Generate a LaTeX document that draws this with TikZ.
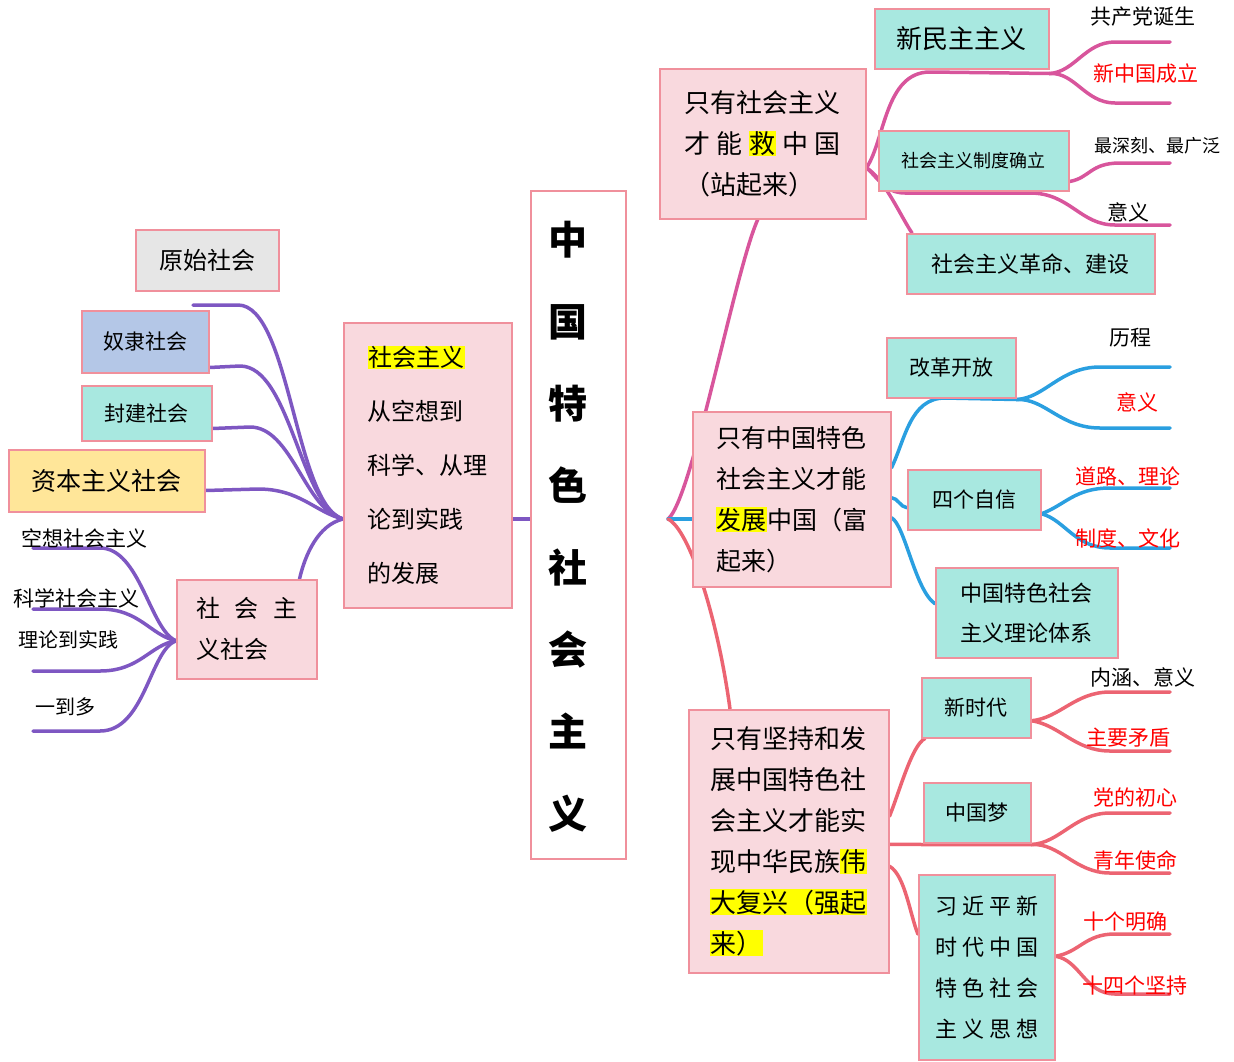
\documentclass[tikz,border=0pt]{standalone}
\usepackage{fontspec}
\setmainfont{Noto Sans CJK SC}
\usepackage{tikz}
\usetikzlibrary{backgrounds}
\usepackage{xcolor}
\definecolor{boxline}{HTML}{F0909C}
\definecolor{boxpink}{HTML}{F9D9DE}
\definecolor{boxteal}{HTML}{A8E8E0}
\definecolor{boxgray}{HTML}{E6E6E6}
\definecolor{boxblue}{HTML}{B4C7E7}
\definecolor{boxgold}{HTML}{FFE699}
\definecolor{hlyellow}{HTML}{FFFF00}
\definecolor{lnpurple}{HTML}{7E57C2}
\definecolor{lnmagenta}{HTML}{D8559C}
\definecolor{lnblue}{HTML}{2A9FE0}
\definecolor{lnred}{HTML}{EC6472}
\definecolor{txtred}{HTML}{FF0000}
\newcommand{\hl}[1]{{\setlength{\fboxsep}{0.5pt}\colorbox{hlyellow}{#1}}}
\newcommand{\zhsize}[2]{\fontsize{#1}{#2}\selectfont}

\begin{document}
\begin{tikzpicture}[x=1pt,y=-1pt,
 box/.style={draw=boxline,line width=1.5pt,anchor=north west,inner sep=0pt,align=left},
 pinkbox/.style={box,fill=boxpink},
 tealbox/.style={box,fill=boxteal},
 leaf/.style={font=\zhsize{21}{25}},
 redleaf/.style={leaf,text=txtred},
 purpleline/.style={draw=lnpurple,line width=3.5pt,line cap=round},
 magline/.style={draw=lnmagenta,line width=3.5pt,line cap=round},
 blueline/.style={draw=lnblue,line width=3.5pt,line cap=round},
 redline/.style={draw=lnred,line width=3.5pt,line cap=round}]
 \useasboundingbox (0,0) rectangle (1234,1061);

 %%%% left side
 \node[box,fill=boxgray,minimum width=143,minimum height=61,font=\zhsize{24}{28}] (yuanshi) at (135,229) {原始社会};
 \node[box,fill=boxblue,minimum width=127,minimum height=62,font=\zhsize{21}{25}] (nuli) at (81,310) {奴隶社会};
 \node[tealbox,minimum width=130,minimum height=55,font=\zhsize{21}{25}] (fengjian) at (81,385) {封建社会};
 \node[box,fill=boxgold,minimum width=196,minimum height=62,font=\zhsize{25}{29}] (ziben) at (8,449) {资本主义社会};
 \node[pinkbox,minimum width=140,minimum height=99,font=\zhsize{24}{41}] (shzh) at (176,579) {\makebox[101pt][s]{社\hfill 会\hfill 主}\\义社会};
 \node[pinkbox,minimum width=168,minimum height=285,font=\zhsize{24}{54}] (fazhan) at (343,322) {\hl{社会主义}\\从空想到\\科学、从理\\论到实践\\的发展};

 \node[box,fill=white,minimum width=95,minimum height=668] (zhongte) at (530,190) {};
 \node[align=center,font=\zhsize{39}{82}\bfseries] (zhongte-text) at ([xshift=-10,yshift=-2]zhongte.center) {中\\国\\特\\色\\社\\会\\主\\义};

 %%%% right side
 \node[pinkbox,minimum width=206,minimum height=150,font=\zhsize{26}{41}] (jiuguo) at (659,68) {只有社会主义\\\makebox[6em][s]{才\hfill 能\hfill \hl{救}\hfill 中\hfill 国}\\（站起来）};
 \node[tealbox,minimum width=174,minimum height=60,font=\zhsize{26}{30}] (xinmin) at (874,8) {新民主主义};
 \node[tealbox,minimum width=190,minimum height=60,font=\zhsize{18}{22}] (zhidu) at (878,130) {社会主义制度确立};
 \node[tealbox,minimum width=248,minimum height=60,font=\zhsize{22}{26}] (geming) at (906,233) {社会主义革命、建设};

 \node[pinkbox,minimum width=198,minimum height=175,font=\zhsize{25}{41}] (fuqilai) at (692,411) {只有中国特色\\社会主义才能\\\hl{发展}中国（富\\起来）};
 \node[tealbox,minimum width=129,minimum height=60,font=\zhsize{21}{25}] (gaige) at (886,337) {改革开放};
 \node[tealbox,minimum width=133,minimum height=60,font=\zhsize{21}{25}] (zixin) at (907,469) {四个自信};
 \node[tealbox,minimum width=182,minimum height=90,font=\zhsize{22}{40}] (tixi) at (935,567) {中国特色社会\\主义理论体系};

 \node[pinkbox,minimum width=200,minimum height=263,font=\zhsize{26}{41}] (qiangqilai) at (688,709) {只有坚持和发\\展中国特色社\\会主义才能实\\现中华民族\hl{伟}\\\hl{大复兴（强起}\\\hl{来）}};
 \node[tealbox,minimum width=109,minimum height=60,font=\zhsize{21}{25}] (xinshidai) at (921,677) {新时代};
 \node[tealbox,minimum width=107,minimum height=60,font=\zhsize{21}{25}] (zhongguomeng) at (923,782) {中国梦};
 \node[tealbox,minimum width=136,minimum height=185,font=\zhsize{22}{41}] (sixiang) at (918,874) {习 近 平 新\\时 代 中 国\\特 色 社 会\\主 义 思 想};

 %%%% labels
 \node[leaf] (l-gongchan) at (1143,17) {共产党诞生};
 \node[redleaf] (l-xinzhongguo) at (1146,74) {新中国成立};
 \node[font=\zhsize{18}{22}] (l-zuishen) at (1157,146) {最深刻、最广泛};
 \node[leaf] (l-yiyi1) at (1128,212) {意义};
 \node[leaf] (l-licheng) at (1130,338) {历程};
 \node[redleaf] (l-yiyi2) at (1137,402) {意义};
 \node[redleaf] (l-daolu) at (1128,476) {道路、理论};
 \node[redleaf] (l-zhidu) at (1128,538) {制度、文化};
 \node[leaf] (l-neihan) at (1143,677) {内涵、意义};
 \node[redleaf] (l-maodun) at (1128,738) {主要矛盾};
 \node[redleaf] (l-chuxin) at (1135,797) {党的初心};
 \node[redleaf] (l-shiming) at (1135,860) {青年使命};
 \node[redleaf] (l-mingque) at (1125,922) {十个明确};
 \node[redleaf] (l-jianchi) at (1135,985) {十四个坚持};
 \node[leaf] (l-kongxiang) at (84,538) {空想社会主义};
 \node[leaf] (l-kexue) at (76,598) {科学社会主义};
 \node[font=\zhsize{20}{24}] (l-shijian) at (68,640) {理论到实践};
 \node[font=\zhsize{20}{24}] (l-yiduo) at (65,707) {一到多};

 \coordinate (jl) at (343,519);
 \coordinate (jr) at (668,519);
 \coordinate (e-yuanshi) at (193,305);
 \foreach \n/\y in {e-gc/42,e-xzg/103,e-zs/163,e-yy1/225,e-lc/367,e-yy2/428,e-dl/488,e-zd/548,
   e-nh/692,e-mz/751,e-cx/813,e-qn/873,e-sm/934,e-ssg/994}
  \coordinate (\n) at (1170,\y);
 \foreach \n/\y in {e-kx/548,e-kx2/609,e-ll/671,e-ydd/731}
  \coordinate (\n) at (33,\y);

 \begin{pgfonlayer}{background}
 %%%% purple
 \draw[purpleline] (zhongte.west |- jl) -- (fazhan.east |- jl);
 \draw[purpleline] (e-yuanshi) -- (238,305) .. controls (290,305) and (295,505) .. (jl);
 \draw[purpleline] ([yshift=6]nuli.south east) -- (240,366) .. controls (290,366) and (300,505) .. (jl);
 \draw[purpleline] ([yshift=13]fengjian.south east) -- (250,427) .. controls (292,427) and (305,510) .. (jl);
 \draw[purpleline] ([yshift=22]ziben.south east) -- (258,489) .. controls (300,489) and (315,512) .. (jl);
 \draw[purpleline] (jl) .. controls (318,525) and (305,555) .. ([xshift=-18]shzh.north east);
 \draw[purpleline] ([yshift=-11.5]shzh.west) .. controls (150,630) and (140,548) .. (100,548) -- (e-kx);
 \draw[purpleline] ([yshift=-11.5]shzh.west) .. controls (150,635) and (140,609) .. (100,609) -- (e-kx2);
 \draw[purpleline] ([yshift=-11.5]shzh.west) .. controls (150,645) and (140,671) .. (100,671) -- (e-ll);
 \draw[purpleline] ([yshift=-11.5]shzh.west) .. controls (150,650) and (145,731) .. (100,731) -- (e-ydd);

 %%%% magenta
 \draw[magline] (jr) .. controls (692,500) and (735,270) .. ([xshift=-5]jiuguo.south);
 \draw[magline] ([yshift=-24]jiuguo.east) .. controls (885,140) and (885,72) .. (930,72) -- ([yshift=-4]xinmin.south east);
 \draw[magline] ([yshift=-4]xinmin.south east) .. controls (1075,72) and (1085,42) .. (1115,42) -- (e-gc);
 \draw[magline] ([yshift=-4]xinmin.south east) .. controls (1075,72) and (1085,103) .. (1115,103) -- (e-xzg);
 \draw[magline] ([yshift=-24]jiuguo.east) .. controls (878,178) and (885,193) .. (905,193) -- (1030,193)
   .. controls (1070,193) and (1080,225) .. (1115,225) -- (e-yy1);
 \draw[magline] ([yshift=10]zhidu.south east) .. controls (1090,178) and (1090,163) .. (1120,163) -- (e-zs);
 \draw[magline] ([yshift=-24]jiuguo.east) .. controls (885,180) and (900,215) .. ([xshift=6]geming.north west);

 %%%% blue
 \draw[blueline] (jr) -- (fuqilai.west |- jr);
 \draw[blueline] ([yshift=31.5]fuqilai.east) .. controls (905,440) and (910,398) .. (945,398) -- ([yshift=-1]gaige.south east);
 \draw[blueline] ([yshift=-1]gaige.south east) .. controls (1045,398) and (1060,367) .. (1100,367) -- (e-lc);
 \draw[blueline] ([yshift=-1]gaige.south east) .. controls (1045,398) and (1060,428) .. (1100,428) -- (e-yy2);
 \draw[blueline] ([yshift=1.5]fuqilai.east) .. controls (898,498) and (900,507) .. ([yshift=-8]zixin.west);
 \draw[blueline] ([yshift=-14]zixin.east) .. controls (1065,505) and (1075,488) .. (1110,488) -- (e-dl);
 \draw[blueline] ([yshift=-14]zixin.east) .. controls (1065,520) and (1075,548) .. (1110,548) -- (e-zd);
 \draw[blueline] ([yshift=-18.5]fuqilai.east) .. controls (905,525) and (915,590) .. ([yshift=9]tixi.west);

 %%%% red
 \draw[redline] (jr) .. controls (690,530) and (718,620) .. ([xshift=42]qiangqilai.north west);
 \draw[redline] ([yshift=25]qiangqilai.east) .. controls (900,790) and (912,745) .. ([xshift=4]xinshidai.south west);
 \draw[redline] ([yshift=-13]xinshidai.east) .. controls (1060,718) and (1075,692) .. (1110,692) -- (e-nh);
 \draw[redline] ([yshift=-13]xinshidai.east) .. controls (1060,725) and (1075,751) .. (1110,751) -- (e-mz);
 \draw[redline] ([yshift=-3]qiangqilai.east) -- ([yshift=-1]zhongguomeng.south west) -- ([yshift=-1]zhongguomeng.south east);
 \draw[redline] ([yshift=-1]zhongguomeng.south east) .. controls (1060,843) and (1075,813) .. (1110,813) -- (e-cx);
 \draw[redline] ([yshift=-1]zhongguomeng.south east) .. controls (1060,843) and (1075,873) .. (1110,873) -- (e-qn);
 \draw[redline] ([yshift=-25]qiangqilai.east) .. controls (905,875) and (910,915) .. ([yshift=33]sixiang.west);
 \draw[redline] ([yshift=11]sixiang.east) .. controls (1080,952) and (1085,934) .. (1115,934) -- (e-sm);
 \draw[redline] ([yshift=11]sixiang.east) .. controls (1080,960) and (1085,994) .. (1115,994) -- (e-ssg);
 \end{pgfonlayer}
\end{tikzpicture}
\end{document}
